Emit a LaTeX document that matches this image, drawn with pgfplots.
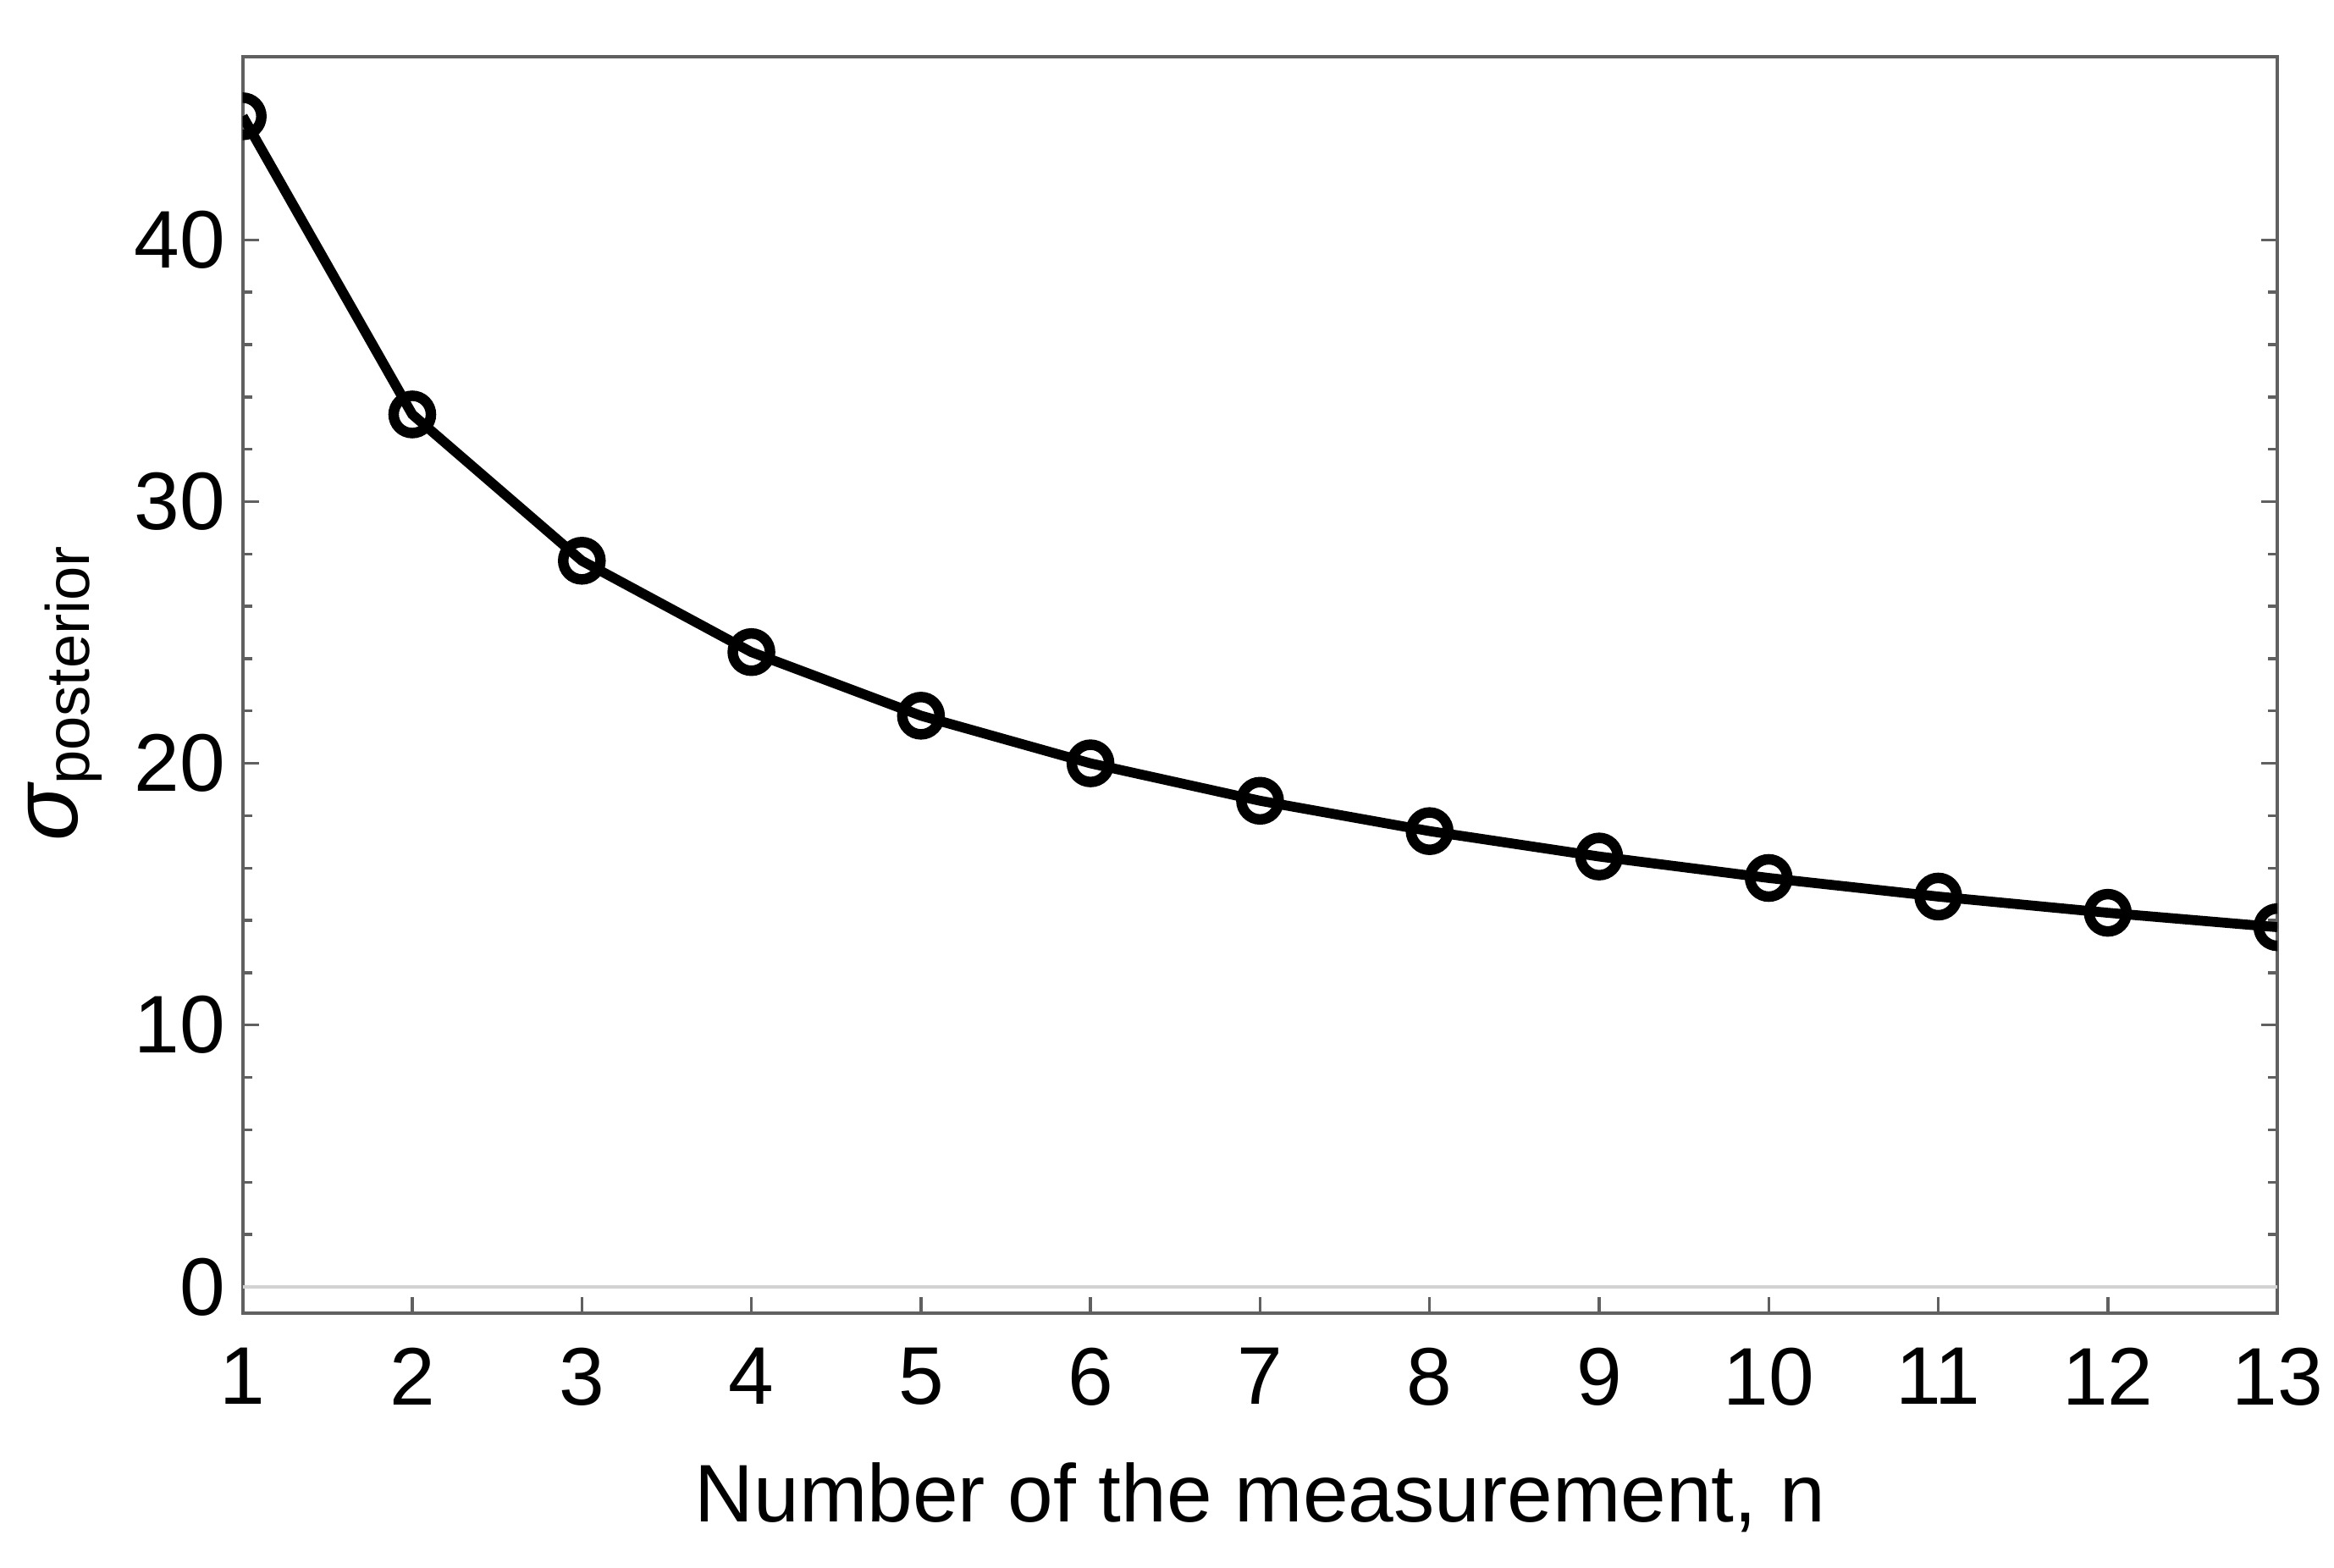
\documentclass[border=0pt]{standalone}
\usepackage{fontspec}
\setmainfont{Liberation Sans}
\usepackage{pgfplots}
\pgfplotsset{compat=1.18}
\definecolor{axgray}{HTML}{606060}
\begin{document}
\begin{tikzpicture}
\begin{axis}[
  name=ax, at={(0,0)}, anchor=south west,
  scale only axis, width=348.7pt, height=215.3pt,
  xmin=1, xmax=13, ymin=-1, ymax=47,
  xtick={1,...,13}, ytick={0,10,20,30,40},
  minor y tick num=4,
  xtick pos=bottom, ytick pos=both,
  tick align=inside,
  major tick length=2.8pt, minor tick length=1.6pt,
  every tick/.style={axgray, line width=0.5pt},
  axis line style={axgray, line width=0.6pt},
  tick label style={font=\fontsize{14}{16}\selectfont, black},
  /pgf/number format/assume math mode=true,
  xticklabel style={yshift=-2.5pt},
  yticklabel style={xshift=0.5pt},
  xlabel={Number of the measurement, n},
  ylabel={{\fontsize{16}{16}\selectfont\itshape σ}\raisebox{-2pt}{\fontsize{10.5}{12}\selectfont posterior}},
  xlabel style={font=\fontsize{14}{16}\selectfont, at={(axis description cs:0.5,0)}, anchor=center, yshift=-31.6pt},
  ylabel style={at={(axis description cs:0,0.5)}, anchor=center, yshift=30.5pt, xshift=-1.5pt},
  clip marker paths=true,
]
\addplot[gray!35, line width=0.6pt, forget plot] coordinates {(1,0) (13,0)};
\addplot[black, line width=1.7pt, mark=o, mark size=3.2pt,
  mark options={fill=white, line width=1.8pt}] coordinates {
(1,44.72) (2,33.33) (3,27.74) (4,24.25) (5,21.82) (6,20.00) (7,18.57)
(8,17.41) (9,16.44) (10,15.62) (11,14.91) (12,14.29) (13,13.74)
};
\end{axis}
\pgfresetboundingbox
\path (-41.6pt,-43.6pt) rectangle (358.4pt,225pt);
\end{tikzpicture}
\end{document}
